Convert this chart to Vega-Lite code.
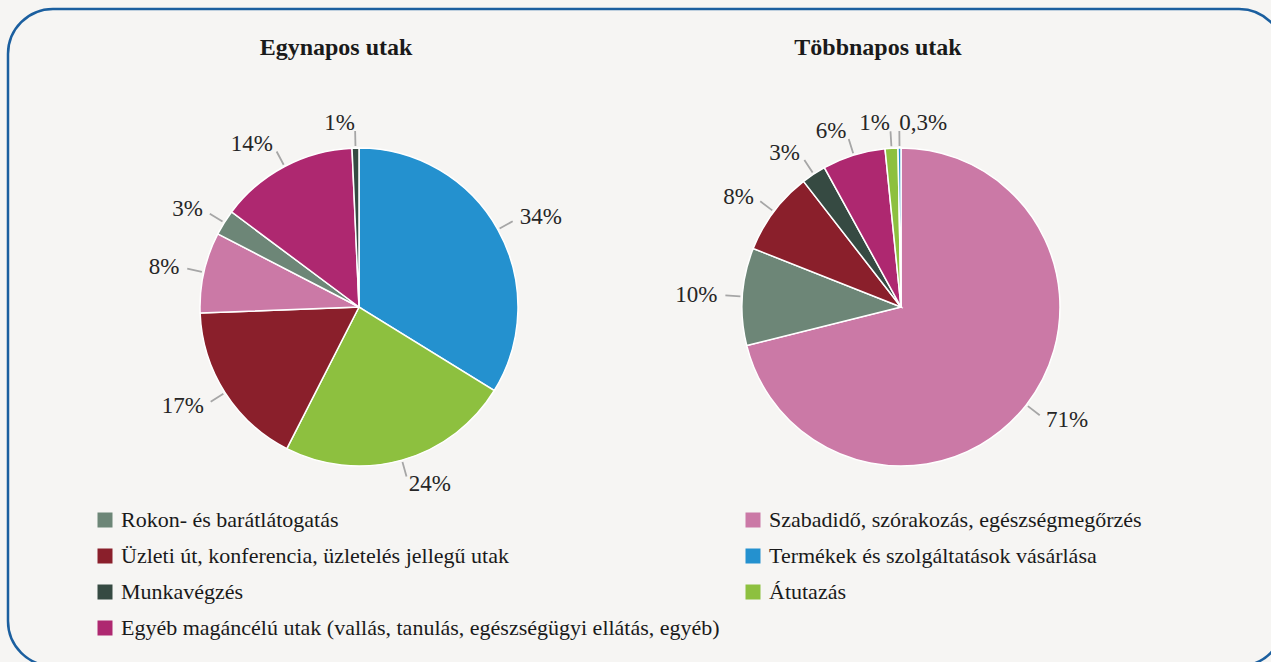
{
  "$schema": "https://vega.github.io/schema/vega-lite/v6.json",
  "autosize": {"type": "none"},
  "width": 1276,
  "height": 657,
  "padding": {"left": 8, "top": 9, "right": -13, "bottom": -4},
  "background": "#f6f5f3",
  "config": {
    "view": {"stroke": "#1b5f9f", "strokeWidth": 2.5, "cornerRadius": 45, "fill": "#f6f5f3"},
    "font": "Liberation Serif, serif",
    "legend": {
      "orient": "none",
      "legendX": 86,
      "legendY": 500,
      "columns": 2,
      "title": null,
      "symbolType": "square",
      "symbolSize": 225,
      "symbolStrokeWidth": 0,
      "symbolOpacity": 1,
      "labelFont": "Liberation Serif, serif",
      "labelFontSize": 22,
      "labelColor": "#1a1a1a",
      "labelOffset": 5,
      "labelLimit": 800,
      "rowPadding": 14,
      "columnPadding": 22
    }
  },
  "layer": [
    {
      "data": {
        "values": [
          {"pie": "Egynapos utak", "ord": 1, "cat": "Termékek és szolgáltatások vásárlása", "value": 33.8, "label": "34%"},
          {"pie": "Egynapos utak", "ord": 2, "cat": "Átutazás", "value": 23.7, "label": "24%"},
          {"pie": "Egynapos utak", "ord": 3, "cat": "Üzleti út, konferencia, üzletelés jellegű utak", "value": 16.9, "label": "17%"},
          {"pie": "Egynapos utak", "ord": 4, "cat": "Szabadidő, szórakozás, egészségmegőrzés", "value": 8.2, "label": "8%"},
          {"pie": "Egynapos utak", "ord": 5, "cat": "Rokon- és barátlátogatás", "value": 2.6, "label": "3%"},
          {"pie": "Egynapos utak", "ord": 6, "cat": "Egyéb magáncélú utak (vallás, tanulás, egészségügyi ellátás, egyéb)", "value": 14.1, "label": "14%"},
          {"pie": "Egynapos utak", "ord": 7, "cat": "Munkavégzés", "value": 0.7, "label": "1%"},
          {"pie": "Többnapos utak", "ord": 1, "cat": "Szabadidő, szórakozás, egészségmegőrzés", "value": 71.1, "label": "71%"},
          {"pie": "Többnapos utak", "ord": 2, "cat": "Rokon- és barátlátogatás", "value": 9.9, "label": "10%"},
          {"pie": "Többnapos utak", "ord": 3, "cat": "Üzleti út, konferencia, üzletelés jellegű utak", "value": 8.5, "label": "8%"},
          {"pie": "Többnapos utak", "ord": 4, "cat": "Munkavégzés", "value": 2.5, "label": "3%"},
          {"pie": "Többnapos utak", "ord": 5, "cat": "Egyéb magáncélú utak (vallás, tanulás, egészségügyi ellátás, egyéb)", "value": 6.4, "label": "6%"},
          {"pie": "Többnapos utak", "ord": 6, "cat": "Átutazás", "value": 1.3, "label": "1%"},
          {"pie": "Többnapos utak", "ord": 7, "cat": "Termékek és szolgáltatások vásárlása", "value": 0.3, "label": "0,3%"}
        ]
      },
      "transform": [
        {"window": [{"op": "sum", "field": "value", "as": "end"}], "groupby": ["pie"], "sort": [{"field": "ord", "order": "ascending"}], "frame": [null, 0]},
        {"calculate": "datum.end - datum.value", "as": "start"},
        {"calculate": "datum.end - datum.value / 2", "as": "mid"}
      ],
      "encoding": {
        "x": {"field": "pie", "type": "nominal", "scale": {"type": "point", "range": [351, 893], "padding": 0}, "axis": null},
        "y": {"datum": 0.5464, "type": "quantitative", "scale": {"domain": [0, 1], "nice": false, "zero": false}, "axis": null}
      },
      "layer": [
        {
          "mark": {"type": "arc", "outerRadius": 159, "stroke": "#ffffff", "strokeWidth": 1.5},
          "encoding": {
            "theta": {"field": "start", "type": "quantitative", "stack": null, "scale": {"domain": [0, 100]}},
            "theta2": {"field": "end"},
            "color": {
              "field": "cat",
              "type": "nominal",
              "scale": {
                "domain": [
                  "Rokon- és barátlátogatás",
                  "Üzleti út, konferencia, üzletelés jellegű utak",
                  "Munkavégzés",
                  "Egyéb magáncélú utak (vallás, tanulás, egészségügyi ellátás, egyéb)",
                  "Szabadidő, szórakozás, egészségmegőrzés",
                  "Termékek és szolgáltatások vásárlása",
                  "Átutazás"
                ],
                "range": ["#6d8677", "#8a1f2b", "#364a42", "#ae2870", "#cb79a6", "#2491cf", "#8dc03f"]
              }
            }
          }
        },
        {
          "mark": {"type": "arc", "innerRadius": 161, "outerRadius": 176, "filled": false, "stroke": "#a6a6a6", "strokeWidth": 1.8},
          "encoding": {
            "theta": {"field": "mid", "type": "quantitative", "stack": null, "scale": {"domain": [0, 100]}},
            "theta2": {"field": "mid"}
          }
        },
        {
          "transform": [{"filter": "datum.mid < 50 || datum.mid > 99.75"}],
          "mark": {"type": "text", "radius": 184, "align": "left", "baseline": "middle", "fontSize": 23, "font": "Liberation Serif, serif", "color": "#262626"},
          "encoding": {
            "theta": {"field": "mid", "type": "quantitative", "stack": null, "scale": {"domain": [0, 100]}},
            "text": {"field": "label"}
          }
        },
        {
          "transform": [{"filter": "datum.mid >= 50 && datum.mid <= 99.75"}],
          "mark": {"type": "text", "radius": 184, "align": "right", "baseline": "middle", "fontSize": 23, "font": "Liberation Serif, serif", "color": "#262626"},
          "encoding": {
            "theta": {"field": "mid", "type": "quantitative", "stack": null, "scale": {"domain": [0, 100]}},
            "text": {"field": "label"}
          }
        }
      ]
    },
    {
      "data": {"values": [{"pie": "Egynapos utak"}, {"pie": "Többnapos utak"}]},
      "mark": {"type": "text", "radius": 259, "dx": -23, "align": "center", "baseline": "middle", "fontSize": 24, "fontWeight": "bold", "font": "Liberation Serif, serif", "color": "#1a1a1a"},
      "encoding": {
        "x": {"field": "pie", "type": "nominal", "scale": {"type": "point", "range": [351, 893], "padding": 0}, "axis": null},
        "y": {"datum": 0.5464, "type": "quantitative", "scale": {"domain": [0, 1], "nice": false, "zero": false}, "axis": null},
        "theta": {"datum": 0, "type": "quantitative", "scale": {"domain": [0, 100]}},
        "text": {"field": "pie"}
      }
    }
  ]
}
